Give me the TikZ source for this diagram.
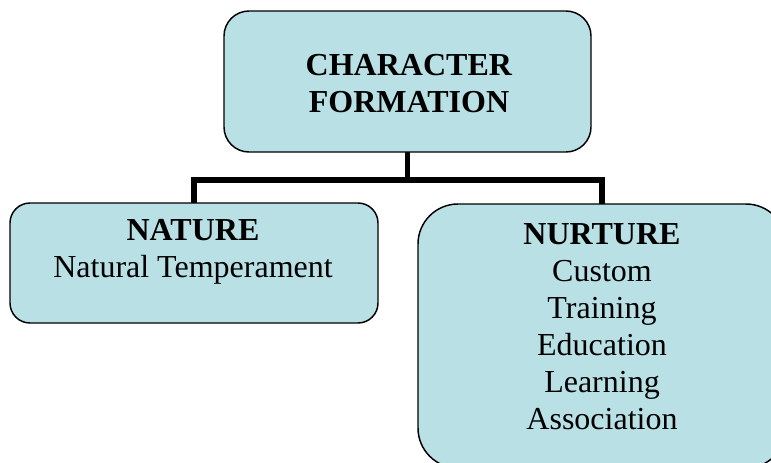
\documentclass[tikz,border=0pt]{standalone}
\usepackage{fontspec}
\setmainfont{Liberation Serif}
\definecolor{boxfill}{RGB}{185,224,228}
\begin{document}
\begin{tikzpicture}[x=0.75pt,y=-0.75pt,
  box/.style={draw=black, line width=1.1pt, fill=boxfill, rectangle, inner sep=0pt, outer sep=0pt},
  conn/.style={draw=black, line width=4pt, line join=miter, line cap=butt},
  lbl/.style={inner sep=0pt, outer sep=0pt, align=center, anchor=north, font=\fontsize{24}{27.75}\selectfont}]
\useasboundingbox (0,0) rectangle (771,462);
\clip (0,0) rectangle (771,462);
\node[box, rounded corners=25*0.75pt, minimum width=367*0.75pt, minimum height=141*0.75pt] (top) at (407.5,81.5) {};
\node[box, rounded corners=20*0.75pt, minimum width=368*0.75pt, minimum height=120*0.75pt] (nat) at (194,263) {};
\node[box, rounded corners=40*0.75pt, minimum width=368*0.75pt, minimum height=264*0.75pt] (nur) at (602,336) {};
\coordinate (bus) at (0,180);
\draw[conn] (top.south) -- (top.south |- bus);
\draw[conn] (nat.north) -- (nat.north |- bus) -- (nur.north |- bus) -- (nur.north);
\node[lbl] (toptext) at (409,54) {\textbf{CHARACTER}\\\textbf{FORMATION}};
\node[lbl] (nattext) at (193,219) {\textbf{NATURE}\\Natural Temperament};
\node[lbl] (nurtext) at (602,224) {\textbf{NURTURE}\\Custom\\Training\\Education\\Learning\\Association};
\end{tikzpicture}
\end{document}
